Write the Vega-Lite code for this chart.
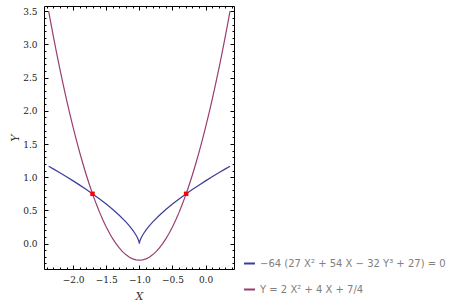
{
  "$schema": "https://vega.github.io/schema/vega-lite/v6.json",
  "width": 190,
  "height": 263,
  "autosize": "none",
  "padding": {"left": 44, "top": 6, "right": 228, "bottom": 39},
  "background": "white",
  "config": {
    "view": {"stroke": null},
    "axis": {
      "domainColor": "#000000",
      "domainWidth": 1,
      "tickColor": "#000000",
      "tickWidth": 1,
      "grid": false,
      "labelFont": "DejaVu Serif",
      "labelFontSize": 9,
      "labelColor": "#222222",
      "titleFont": "DejaVu Serif",
      "titleFontStyle": "italic",
      "titleFontWeight": "normal",
      "titleFontSize": 11,
      "titleColor": "#333333"
    }
  },
  "datasets": {
    "curves": [
      {"x": -2.37, "y": 1.1655, "s": "A"},
      {"x": -2.3, "y": 1.1255, "s": "A"},
      {"x": -2.2, "y": 1.067, "s": "A"},
      {"x": -2.1, "y": 1.0069, "s": "A"},
      {"x": -2.0, "y": 0.9449, "s": "A"},
      {"x": -1.9, "y": 0.8808, "s": "A"},
      {"x": -1.8, "y": 0.8143, "s": "A"},
      {"x": -1.7, "y": 0.745, "s": "A"},
      {"x": -1.6, "y": 0.6722, "s": "A"},
      {"x": -1.5, "y": 0.5953, "s": "A"},
      {"x": -1.4, "y": 0.513, "s": "A"},
      {"x": -1.3, "y": 0.4234, "s": "A"},
      {"x": -1.2, "y": 0.3232, "s": "A"},
      {"x": -1.15, "y": 0.2667, "s": "A"},
      {"x": -1.1, "y": 0.2035, "s": "A"},
      {"x": -1.06, "y": 0.1448, "s": "A"},
      {"x": -1.03, "y": 0.0912, "s": "A"},
      {"x": -1.01, "y": 0.0439, "s": "A"},
      {"x": -1.002, "y": 0.015, "s": "A"},
      {"x": -1.0, "y": 0.0, "s": "A"},
      {"x": -0.998, "y": 0.015, "s": "A"},
      {"x": -0.99, "y": 0.0439, "s": "A"},
      {"x": -0.97, "y": 0.0912, "s": "A"},
      {"x": -0.94, "y": 0.1448, "s": "A"},
      {"x": -0.9, "y": 0.2035, "s": "A"},
      {"x": -0.85, "y": 0.2667, "s": "A"},
      {"x": -0.8, "y": 0.3232, "s": "A"},
      {"x": -0.7, "y": 0.4234, "s": "A"},
      {"x": -0.6, "y": 0.513, "s": "A"},
      {"x": -0.5, "y": 0.5953, "s": "A"},
      {"x": -0.4, "y": 0.6722, "s": "A"},
      {"x": -0.3, "y": 0.745, "s": "A"},
      {"x": -0.2, "y": 0.8143, "s": "A"},
      {"x": -0.1, "y": 0.8808, "s": "A"},
      {"x": 0.0, "y": 0.9449, "s": "A"},
      {"x": 0.1, "y": 1.0069, "s": "A"},
      {"x": 0.2, "y": 1.067, "s": "A"},
      {"x": 0.3, "y": 1.1255, "s": "A"},
      {"x": 0.37, "y": 1.1655, "s": "A"},
      {"x": -2.37, "y": 3.5038, "s": "B"},
      {"x": -2.35, "y": 3.395, "s": "B"},
      {"x": -2.3, "y": 3.13, "s": "B"},
      {"x": -2.25, "y": 2.875, "s": "B"},
      {"x": -2.2, "y": 2.63, "s": "B"},
      {"x": -2.15, "y": 2.395, "s": "B"},
      {"x": -2.1, "y": 2.17, "s": "B"},
      {"x": -2.05, "y": 1.955, "s": "B"},
      {"x": -2.0, "y": 1.75, "s": "B"},
      {"x": -1.95, "y": 1.555, "s": "B"},
      {"x": -1.9, "y": 1.37, "s": "B"},
      {"x": -1.85, "y": 1.195, "s": "B"},
      {"x": -1.8, "y": 1.03, "s": "B"},
      {"x": -1.75, "y": 0.875, "s": "B"},
      {"x": -1.7, "y": 0.73, "s": "B"},
      {"x": -1.65, "y": 0.595, "s": "B"},
      {"x": -1.6, "y": 0.47, "s": "B"},
      {"x": -1.55, "y": 0.355, "s": "B"},
      {"x": -1.5, "y": 0.25, "s": "B"},
      {"x": -1.45, "y": 0.155, "s": "B"},
      {"x": -1.4, "y": 0.07, "s": "B"},
      {"x": -1.35, "y": -0.005, "s": "B"},
      {"x": -1.3, "y": -0.07, "s": "B"},
      {"x": -1.25, "y": -0.125, "s": "B"},
      {"x": -1.2, "y": -0.17, "s": "B"},
      {"x": -1.15, "y": -0.205, "s": "B"},
      {"x": -1.1, "y": -0.23, "s": "B"},
      {"x": -1.05, "y": -0.245, "s": "B"},
      {"x": -1.0, "y": -0.25, "s": "B"},
      {"x": -0.95, "y": -0.245, "s": "B"},
      {"x": -0.9, "y": -0.23, "s": "B"},
      {"x": -0.85, "y": -0.205, "s": "B"},
      {"x": -0.8, "y": -0.17, "s": "B"},
      {"x": -0.75, "y": -0.125, "s": "B"},
      {"x": -0.7, "y": -0.07, "s": "B"},
      {"x": -0.65, "y": -0.005, "s": "B"},
      {"x": -0.6, "y": 0.07, "s": "B"},
      {"x": -0.55, "y": 0.155, "s": "B"},
      {"x": -0.5, "y": 0.25, "s": "B"},
      {"x": -0.45, "y": 0.355, "s": "B"},
      {"x": -0.4, "y": 0.47, "s": "B"},
      {"x": -0.35, "y": 0.595, "s": "B"},
      {"x": -0.3, "y": 0.73, "s": "B"},
      {"x": -0.25, "y": 0.875, "s": "B"},
      {"x": -0.2, "y": 1.03, "s": "B"},
      {"x": -0.15, "y": 1.195, "s": "B"},
      {"x": -0.1, "y": 1.37, "s": "B"},
      {"x": -0.05, "y": 1.555, "s": "B"},
      {"x": 0.0, "y": 1.75, "s": "B"},
      {"x": 0.05, "y": 1.955, "s": "B"},
      {"x": 0.1, "y": 2.17, "s": "B"},
      {"x": 0.15, "y": 2.395, "s": "B"},
      {"x": 0.2, "y": 2.63, "s": "B"},
      {"x": 0.25, "y": 2.875, "s": "B"},
      {"x": 0.3, "y": 3.13, "s": "B"},
      {"x": 0.35, "y": 3.395, "s": "B"},
      {"x": 0.37, "y": 3.5038, "s": "B"}
    ],
    "pts": [
      {"x": -1.7071, "y": 0.75},
      {"x": -0.2929, "y": 0.75}
    ]
  },
  "resolve": {"axis": {"x": "independent", "y": "independent"}},
  "layer": [
    {
      "data": {"name": "curves"},
      "mark": {"type": "line", "strokeWidth": 1.2, "clip": true},
      "encoding": {
        "x": {
          "field": "x", "type": "quantitative",
          "scale": {"domain": [-2.44, 0.43], "nice": false, "zero": false},
          "axis": {
            "orient": "bottom", "title": "X",
            "values": [-2.4,-2.3,-2.2,-2.1,-2.0,-1.9,-1.8,-1.7,-1.6,-1.5,-1.4,-1.3,-1.2,-1.1,-1.0,-0.9,-0.8,-0.7,-0.6,-0.5,-0.4,-0.3,-0.2,-0.1,0.0,0.1,0.2,0.3,0.4],
            "labelExpr": "abs(datum.value*2 - round(datum.value*2)) < 0.001 ? format(datum.value, '.1f') : ''",
            "tickSize": {"condition": {"test": "abs(datum.value*2 - round(datum.value*2)) < 0.001", "value": -4}, "value": -2},
            "labelPadding": 10,
            "labelFlush": false,
            "labelOverlap": false,
            "titlePadding": 4
          }
        },
        "y": {
          "field": "y", "type": "quantitative",
          "scale": {"domain": [-0.383, 3.58], "nice": false, "zero": false},
          "axis": {
            "orient": "left", "title": "Y",
            "values": [-0.3,-0.2,-0.1,0.0,0.1,0.2,0.3,0.4,0.5,0.6,0.7,0.8,0.9,1.0,1.1,1.2,1.3,1.4,1.5,1.6,1.7,1.8,1.9,2.0,2.1,2.2,2.3,2.4,2.5,2.6,2.7,2.8,2.9,3.0,3.1,3.2,3.3,3.4,3.5],
            "labelExpr": "abs(datum.value*2 - round(datum.value*2)) < 0.001 ? format(datum.value, '.1f') : ''",
            "tickSize": {"condition": {"test": "abs(datum.value*2 - round(datum.value*2)) < 0.001", "value": -4}, "value": -2},
            "labelPadding": 11,
            "labelFlush": false,
            "labelOverlap": false,
            "titlePadding": 2
          }
        },
        "color": {
          "field": "s", "type": "nominal",
          "scale": {"domain": ["A", "B"], "range": ["#3D3D99", "#993D71"]},
          "legend": {
            "orient": "none",
            "legendX": 199,
            "legendY": 251,
            "title": null,
            "symbolType": "stroke",
            "symbolSize": 120,
            "symbolStrokeWidth": 2,
            "labelFont": "DejaVu Sans",
            "labelFontSize": 10,
            "labelColor": "#808080",
            "labelOffset": 4,
            "labelLimit": 260,
            "rowPadding": 14,
            "labelExpr": "datum.label == 'A' ? '−64 (27 X² + 54 X − 32 Y³ + 27) = 0' : 'Y = 2 X² + 4 X + 7/4'"
          }
        }
      }
    },
    {
      "data": {"name": "pts"},
      "mark": {"type": "point", "shape": "square", "filled": true, "size": 20, "color": "#FF0000", "opacity": 1},
      "encoding": {
        "x": {
          "field": "x", "type": "quantitative",
          "axis": {
            "orient": "top", "title": null, "labels": false,
            "values": [-2.4,-2.3,-2.2,-2.1,-2.0,-1.9,-1.8,-1.7,-1.6,-1.5,-1.4,-1.3,-1.2,-1.1,-1.0,-0.9,-0.8,-0.7,-0.6,-0.5,-0.4,-0.3,-0.2,-0.1,0.0,0.1,0.2,0.3,0.4],
            "tickSize": {"condition": {"test": "abs(datum.value*2 - round(datum.value*2)) < 0.001", "value": -4}, "value": -2}
          }
        },
        "y": {
          "field": "y", "type": "quantitative",
          "axis": {
            "orient": "right", "title": null, "labels": false,
            "values": [-0.3,-0.2,-0.1,0.0,0.1,0.2,0.3,0.4,0.5,0.6,0.7,0.8,0.9,1.0,1.1,1.2,1.3,1.4,1.5,1.6,1.7,1.8,1.9,2.0,2.1,2.2,2.3,2.4,2.5,2.6,2.7,2.8,2.9,3.0,3.1,3.2,3.3,3.4,3.5],
            "tickSize": {"condition": {"test": "abs(datum.value*2 - round(datum.value*2)) < 0.001", "value": -4}, "value": -2}
          }
        }
      }
    }
  ]
}
